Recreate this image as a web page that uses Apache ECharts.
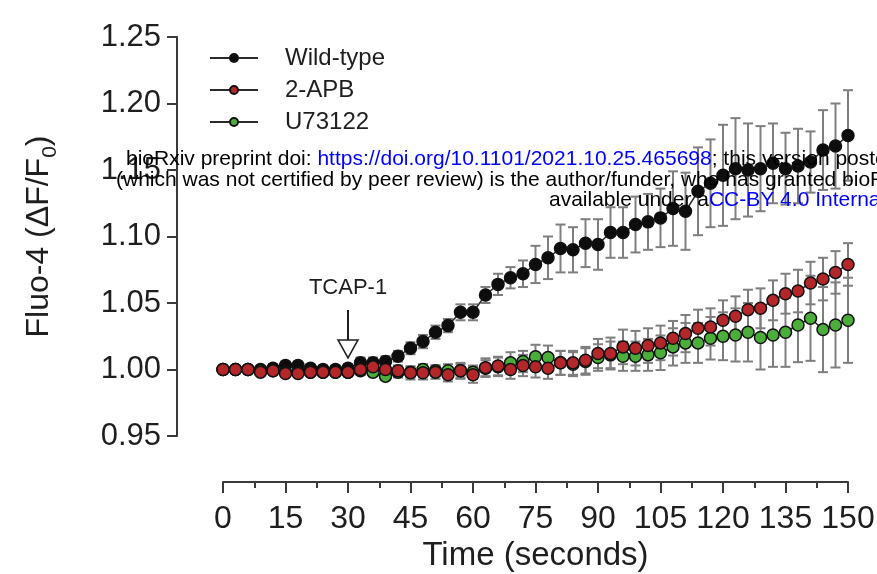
<!DOCTYPE html>
<html>
<head>
<meta charset="utf-8">
<script src="https://cdn.jsdelivr.net/npm/echarts@6/dist/echarts.min.js"></script>
<style>
  html, body { margin: 0; padding: 0; background: #ffffff; }
  #chart { width: 877px; height: 574px; }
</style>
</head>
<body>
<div id="chart"></div>
<script>
// Sampling times (seconds)
const times = [0, 3, 6, 9, 12, 15, 18, 21, 24, 27,
  30, 33, 36, 39, 42, 45, 48, 51, 54, 57,
  60, 63, 66, 69, 72, 75, 78, 81, 84, 87,
  90, 93, 96, 99, 102, 105, 108, 111, 114, 117,
  120, 123, 126, 129, 132, 135, 138, 141, 144, 147, 150];

// Mean Fluo-4 response, ΔF/F0
const wildType = [1.000, 1.000, 1.000, 1.000, 1.001, 1.003, 1.003, 1.001, 1.000, 1.000,
  1.001, 1.005, 1.005, 1.006, 1.010, 1.016, 1.021, 1.028, 1.033, 1.043,
  1.043, 1.056, 1.064, 1.069, 1.072, 1.079, 1.084, 1.091, 1.090, 1.095,
  1.094, 1.103, 1.103, 1.109, 1.111, 1.114, 1.121, 1.119, 1.134, 1.140,
  1.146, 1.151, 1.150, 1.151, 1.155, 1.151, 1.153, 1.156, 1.165, 1.168, 1.176];
const apb = [1.000, 1.000, 1.000, 0.998, 0.999, 0.997, 0.997, 0.998, 0.998, 0.998,
  0.998, 1.000, 1.002, 1.000, 0.999, 0.9975, 0.9975, 0.998, 0.996, 0.999,
  0.996, 1.0014, 1.0026, 1.000, 1.003, 1.002, 1.001, 1.005, 1.005, 1.007,
  1.012, 1.012, 1.017, 1.016, 1.018, 1.020, 1.0235, 1.027, 1.031, 1.032,
  1.037, 1.040, 1.045, 1.046, 1.052, 1.057, 1.059, 1.065, 1.068, 1.073, 1.079];
const u73122 = [1.000, 1.000, 1.000, 0.999, 0.999, 0.998, 0.998, 0.998, 0.998, 0.998,
  0.998, 0.999, 0.998, 0.995, 0.998, 0.998, 1.000, 0.999, 0.999, 0.999,
  0.998, 1.001, 1.002, 1.005, 1.006, 1.0096, 1.009, 1.005, 1.004, 1.006,
  1.009, 1.011, 1.010, 1.010, 1.011, 1.0126, 1.017, 1.020, 1.020, 1.0235,
  1.025, 1.026, 1.028, 1.024, 1.026, 1.028, 1.0335, 1.0385, 1.030, 1.0335, 1.037];

// Error (SEM) for each mean
const wildTypeErr = [0.002, 0.002, 0.002, 0.002, 0.003, 0.003, 0.003, 0.003, 0.003, 0.003,
  0.003, 0.004, 0.004, 0.004, 0.004, 0.0045, 0.005, 0.005, 0.005, 0.006,
  0.006, 0.006, 0.008, 0.008, 0.010, 0.014, 0.016, 0.018, 0.017, 0.018,
  0.019, 0.019, 0.019, 0.021, 0.021, 0.022, 0.028, 0.029, 0.033, 0.033,
  0.038, 0.038, 0.035, 0.032, 0.030, 0.027, 0.028, 0.023, 0.030, 0.032, 0.034];
const apbErr = [0.002, 0.002, 0.002, 0.002, 0.002, 0.002, 0.002, 0.002, 0.002, 0.002,
  0.003, 0.003, 0.004, 0.004, 0.004, 0.005, 0.005, 0.005, 0.005, 0.006,
  0.006, 0.007, 0.007, 0.007, 0.008, 0.008, 0.008, 0.009, 0.009, 0.010,
  0.011, 0.012, 0.013, 0.013, 0.013, 0.013, 0.013, 0.014, 0.014, 0.014,
  0.015, 0.015, 0.015, 0.015, 0.015, 0.015, 0.016, 0.016, 0.016, 0.016, 0.016];
const u73122Err = [0.002, 0.002, 0.002, 0.002, 0.002, 0.002, 0.002, 0.002, 0.002, 0.002,
  0.003, 0.003, 0.003, 0.003, 0.004, 0.004, 0.004, 0.004, 0.005, 0.005,
  0.005, 0.006, 0.007, 0.008, 0.008, 0.009, 0.009, 0.009, 0.009, 0.010,
  0.010, 0.010, 0.011, 0.011, 0.012, 0.013, 0.014, 0.015, 0.015, 0.016,
  0.018, 0.020, 0.022, 0.024, 0.024, 0.026, 0.028, 0.032, 0.032, 0.032, 0.032];

const seriesNames = ['Wild-type', '2-APB', 'U73122'];
const stimulus = { label: 'TCAP-1', time: 30, from: 1.0447, to: 1.0087 };

const FONT = "'Liberation Sans', Arial, Helvetica, sans-serif";
const INK = '#1e1e1e';
const AXIS = '#3a3a3a';
const BAR = '#7e7e7e';

function points(vals) { return times.map((t, i) => [t, vals[i]]); }
function bars(vals, errs) { return times.map((t, i) => [t, vals[i] - errs[i], vals[i] + errs[i]]); }

function renderErrorBar(params, api) {
  const x = api.value(0);
  const lo = api.coord([x, api.value(1)]);
  const hi = api.coord([x, api.value(2)]);
  const cap = 5;
  const style = { stroke: BAR, lineWidth: 2 };
  return {
    type: 'group',
    children: [
      { type: 'line', shape: { x1: lo[0], y1: lo[1], x2: hi[0], y2: hi[1] }, style },
      { type: 'line', shape: { x1: lo[0] - cap, y1: lo[1], x2: lo[0] + cap, y2: lo[1] }, style },
      { type: 'line', shape: { x1: hi[0] - cap, y1: hi[1], x2: hi[0] + cap, y2: hi[1] }, style }
    ]
  };
}

function renderArrow(params, api) {
  const x = api.value(0);
  const top = api.coord([x, api.value(1)]);
  const tip = api.coord([x, api.value(2)]);
  const headH = 18, headW = 10;
  return {
    type: 'group',
    children: [
      { type: 'text', style: { text: stimulus.label, x: top[0], y: top[1] - 22, fill: INK,
          font: '22px ' + FONT, textAlign: 'center', textVerticalAlign: 'middle' } },
      { type: 'line', shape: { x1: top[0], y1: top[1], x2: tip[0], y2: tip[1] - headH },
        style: { stroke: INK, lineWidth: 2 } },
      { type: 'polygon', shape: { points: [[tip[0] - headW, tip[1] - headH], [tip[0] + headW, tip[1] - headH], [tip[0], tip[1]]] },
        style: { fill: '#ffffff', stroke: INK, lineWidth: 1.5 } }
    ]
  };
}

function lineSeries(name, vals, fill, z) {
  return {
    name, type: 'line', data: points(vals), z,
    symbol: 'circle', symbolSize: 12,
    lineStyle: { color: '#2a2a2a', width: 1.5 },
    itemStyle: { color: fill, borderColor: '#111111', borderWidth: 1.5 },
    emphasis: { disabled: true }
  };
}

const chart = echarts.init(document.getElementById('chart'), null, { renderer: 'canvas' });

chart.setOption({
  animation: false,
  backgroundColor: '#ffffff',
  textStyle: { fontFamily: FONT },
  grid: { left: 223, right: 29, top: 37, bottom: 138, containLabel: false, outerBoundsMode: 'none' },
  legend: {
    data: seriesNames,
    orient: 'vertical',
    left: 204, top: 41,
    itemWidth: 48, itemHeight: 10, itemGap: 8,
    textStyle: { fontSize: 24, color: INK, fontFamily: FONT, padding: [0, 0, 0, 22] },
    selectedMode: false
  },
  xAxis: {
    type: 'value', min: 0, max: 150, interval: 15,
    offset: 46,
    name: 'Time (seconds)', nameLocation: 'middle', nameGap: 53,
    nameTextStyle: { fontSize: 33, color: INK, fontFamily: FONT },
    axisLine: { show: true, onZero: false, lineStyle: { color: AXIS, width: 2 } },
    axisTick: { show: true, length: 11, lineStyle: { color: AXIS, width: 2 } },
    minorTick: { show: true, splitNumber: 2, length: 6, lineStyle: { color: AXIS, width: 2 } },
    axisLabel: { fontSize: 32, color: INK, margin: 21, fontFamily: FONT },
    splitLine: { show: false }
  },
  yAxis: {
    type: 'value', min: 0.95, max: 1.25, interval: 0.05,
    offset: 46,
    name: '{a|Fluo-4 (ΔF/F}{s|0}{a|)}', nameLocation: 'middle', nameGap: 116, nameRotate: 90,
    nameTextStyle: {
      color: INK,
      rich: {
        a: { fontSize: 32, fontFamily: FONT, color: INK, lineHeight: 44, verticalAlign: 'middle' },
        s: { fontSize: 21, fontFamily: FONT, color: INK, lineHeight: 21, verticalAlign: 'bottom' }
      }
    },
    axisLine: { show: true, onZero: false, lineStyle: { color: AXIS, width: 2 } },
    axisTick: { show: true, length: 10, lineStyle: { color: AXIS, width: 2 } },
    axisLabel: { fontSize: 31, color: INK, margin: 16, fontFamily: FONT,
      formatter: v => v.toFixed(2) },
    splitLine: { show: false }
  },
  graphic: [
    {
      type: 'text', left: 126, top: 149, z: 100,
      style: {
        text: '{k|bioRxiv preprint doi: }{b|https://doi.org/10.1101/2021.10.25.465698}{k|; this version posted October 26, 2021. The copyright holder for this preprint}',
        rich: { k: { fontSize: 21, fontFamily: FONT, fill: '#000000' }, b: { fontSize: 21, fontFamily: FONT, fill: '#0000ff' } }
      }
    },
    {
      type: 'text', left: 116, top: 169.5, z: 100,
      style: {
        text: '(which was not certified by peer review) is the author/funder, who has granted bioRxiv a license to display the preprint in perpetuity. It is made',
        font: '21px ' + FONT, fill: '#000000'
      }
    },
    {
      type: 'text', left: 549, top: 190, z: 100,
      style: {
        text: '{k|available under a}{b|CC-BY 4.0 International license.}',
        rich: { k: { fontSize: 21, fontFamily: FONT, fill: '#000000' }, b: { fontSize: 21, fontFamily: FONT, fill: '#0000ff' } }
      }
    }
  ],
  series: [
    { type: 'custom', name: 'wtErr', renderItem: renderErrorBar, data: bars(wildType, wildTypeErr), encode: { x: 0, y: [1, 2] }, z: 1, silent: true },
    { type: 'custom', name: 'apbErr', renderItem: renderErrorBar, data: bars(apb, apbErr), encode: { x: 0, y: [1, 2] }, z: 1, silent: true },
    { type: 'custom', name: 'uErr', renderItem: renderErrorBar, data: bars(u73122, u73122Err), encode: { x: 0, y: [1, 2] }, z: 1, silent: true },
    lineSeries(seriesNames[0], wildType, '#0d0d0d', 3),
    lineSeries(seriesNames[2], u73122, '#4cae3a', 4),
    lineSeries(seriesNames[1], apb, '#b3262a', 5),
    { type: 'custom', name: 'stimulus', renderItem: renderArrow,
      data: [[stimulus.time, stimulus.from, stimulus.to]], encode: { x: 0, y: [1, 2] }, z: 6, silent: true }
  ]
});
</script>
</body>
</html>
